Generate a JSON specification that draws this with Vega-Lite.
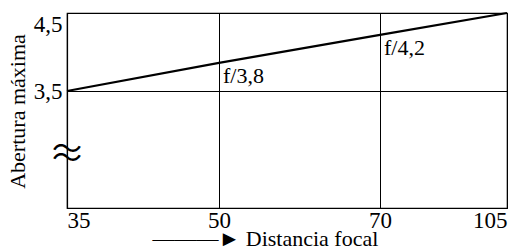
{
  "$schema": "https://vega.github.io/schema/vega-lite/v6.json",
  "width": 440,
  "height": 195,
  "autosize": {"type": "none"},
  "padding": {"left": 67, "top": 13, "right": 18, "bottom": 41},
  "background": "white",
  "config": {
    "font": "Liberation Serif",
    "view": {"stroke": "black", "strokeWidth": 1.2},
    "axis": {
      "labelFont": "Liberation Serif",
      "titleFont": "Liberation Serif",
      "labelFontSize": 23,
      "titleFontSize": 22,
      "labelColor": "black",
      "titleColor": "black",
      "titleFontWeight": "normal",
      "domainColor": "black",
      "domainWidth": 1.2,
      "gridColor": "black",
      "gridOpacity": 1,
      "gridWidth": 1,
      "ticks": false
    }
  },
  "datasets": {
    "lens": [
      {"focal": 35, "apertura": 3.5, "label": ""},
      {"focal": 50, "apertura": 3.86, "label": "f/3,8"},
      {"focal": 70, "apertura": 4.22, "label": "f/4,2"},
      {"focal": 105, "apertura": 4.5, "label": ""}
    ],
    "brk": [
      {"focal": 35, "apertura": 2.75, "sym": "～\n～"}
    ]
  },
  "layer": [
    {
      "data": {"name": "lens"},
      "mark": {"type": "line", "color": "black", "strokeWidth": 2.2},
      "encoding": {
        "x": {
          "field": "focal",
          "type": "quantitative",
          "scale": {"domain": [35, 50, 70, 105], "range": [0, 152, 313, 440]},
          "axis": {
            "values": [35, 50, 70, 105],
            "grid": true,
            "labelPadding": 1,
            "title": "———► Distancia focal",
            "titleAlign": "left",
            "titleAnchor": "start",
            "titleX": 85,
            "titleY": 37,
            "titleBaseline": "alphabetic"
          }
        },
        "y": {
          "field": "apertura",
          "type": "quantitative",
          "scale": {"domain": [2, 4.5], "nice": false, "zero": false},
          "axis": {
            "values": [3.5, 4.5],
            "grid": true,
            "labelFlush": true,
            "labelPadding": 5,
            "labelExpr": "replace(format(datum.value, '.1f'), '.', ',')",
            "title": "Abertura máxima",
            "titleX": -50,
            "titleY": 98,
            "titleAlign": "center",
            "titleBaseline": "middle",
            "titleAngle": -90
          }
        }
      }
    },
    {
      "data": {"name": "lens"},
      "mark": {"type": "text", "font": "Liberation Serif", "fontSize": 22, "align": "left", "baseline": "alphabetic", "dx": 4, "dy": 20, "color": "black"},
      "encoding": {
        "x": {"field": "focal", "type": "quantitative"},
        "y": {"field": "apertura", "type": "quantitative"},
        "text": {"field": "label"}
      }
    },
    {
      "data": {"name": "brk"},
      "mark": {"type": "text", "font": "Noto Sans CJK JP", "fontSize": 30, "lineBreak": "\n", "lineHeight": 9, "align": "center", "baseline": "middle", "color": "black"},
      "encoding": {
        "x": {"field": "focal", "type": "quantitative"},
        "y": {"field": "apertura", "type": "quantitative"},
        "text": {"field": "sym"}
      }
    }
  ]
}
